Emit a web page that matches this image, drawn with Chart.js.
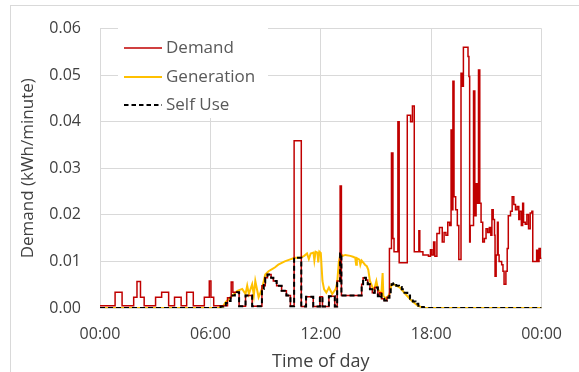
<!DOCTYPE html>
<html>
<head>
<meta charset="utf-8">
<script src="https://cdn.jsdelivr.net/npm/chart.js@4"></script>
<style>
  html, body { margin: 0; padding: 0; background: #fff; overflow: hidden; }
  canvas { display: block; }
</style>
</head>
<body>
<canvas id="demandChart" width="579" height="372"></canvas>
<script>
// tick labels
const timeTicks = ['00:00', '06:00', '12:00', '18:00', '00:00'];
const demandTicks = ['0.00', '0.01', '0.02', '0.03', '0.04', '0.05', '0.06'];

// Demand (step series, hour of day -> kWh/minute)
const demandHours = [0, 0.82, 1.2, 1.83, 2.01, 2.2, 2.4, 3.02, 3.35, 3.73, 4.05, 4.41, 4.71, 5.07, 5.67, 5.94, 6.03, 6.18,
    6.93, 7.13, 7.22, 7.56, 7.91, 8.27, 8.8, 8.98, 9.1, 9.3, 9.42, 9.6, 9.87, 10.13, 10.35, 10.55, 10.94,
    11.2, 11.59, 11.95, 12.09, 12.44, 12.76, 12.89, 13.05, 13.12, 14.22, 14.3, 14.45, 14.55, 14.67, 14.8, 14.93,
    15.1, 15.2, 15.3, 15.45, 15.6, 15.73, 15.84, 15.92, 15.98, 16.19, 16.26, 16.7, 16.88, 16.98, 17.08,
    17.33, 17.38, 17.55, 17.85, 17.96, 18.04, 18.13, 18.2, 18.31, 18.45, 18.6, 18.7, 18.8, 18.9, 19.0,
    19.08, 19.13, 19.18, 19.24, 19.33, 19.42, 19.5, 19.62, 19.69, 19.75, 20.0, 20.05, 20.09, 20.12, 20.3,
    20.37, 20.44, 20.5, 20.57, 20.64, 20.71, 20.8, 20.89, 20.98, 21.07, 21.16, 21.24, 21.3, 21.37, 21.44,
    21.47, 21.53, 21.6, 21.64, 21.69, 21.83, 21.9, 21.96, 22.06, 22.13, 22.19, 22.31, 22.4, 22.49, 22.58,
    22.67, 22.76, 22.81, 22.9, 22.97, 23.02, 23.11, 23.2, 23.29, 23.38, 23.47, 23.52, 23.73, 23.79, 23.86,
    23.93, 24];
const demandValues = [0.0005, 0.0034, 0.0005, 0.0023, 0.0057, 0.0023, 0.0005, 0.0023, 0.0034, 0.0005, 0.0023, 0.0005, 0.0034, 0.0005, 0.0023, 0.0058, 0.0023, 0.0005,
    0.0022, 0.0056, 0.0034, 0.0004, 0.0027, 0.0004, 0.0048, 0.0065, 0.0072, 0.0065, 0.0058, 0.0048, 0.0037, 0.0027, 0.0004, 0.0359, 0.0003,
    0.0024, 0.0003, 0.0024, 0.0003, 0.0025, 0.0003, 0.0058, 0.0262, 0.0027, 0.0051, 0.0065, 0.006, 0.0051, 0.004, 0.0033, 0.0044,
    0.0025, 0.0033, 0.002, 0.0016, 0.0023, 0.0128, 0.0333, 0.0149, 0.0121, 0.04, 0.0097, 0.0414, 0.04, 0.0434, 0.0121,
    0.0166, 0.0121, 0.0114, 0.0111, 0.0125, 0.0114, 0.0142, 0.0111, 0.016, 0.0173, 0.0142, 0.0162, 0.0156, 0.0184, 0.0177,
    0.0382, 0.0211, 0.0487, 0.0239, 0.0211, 0.0177, 0.0104, 0.0504, 0.0476, 0.056, 0.054, 0.0497, 0.0142, 0.0177, 0.0466,
    0.0198, 0.0267, 0.0225, 0.0511, 0.0225, 0.0184, 0.0142, 0.0149, 0.017, 0.0162, 0.0173, 0.0156, 0.0211, 0.019, 0.0156,
    0.0068, 0.0114, 0.0184, 0.0114, 0.01, 0.0093, 0.0079, 0.0051, 0.0079, 0.0128, 0.0198, 0.0208, 0.0239, 0.0222, 0.0211,
    0.0218, 0.019, 0.0208, 0.0177, 0.0225, 0.0184, 0.018, 0.0201, 0.017, 0.0204, 0.0208, 0.01, 0.0124, 0.01, 0.0128,
    0.0107, 0.0107];

// Generation (hour of day -> kWh/minute)
const genHours = [0, 6.45, 6.67, 6.84, 7.2, 7.47, 7.73, 7.91, 8.0, 8.09, 8.27, 8.36, 8.44, 8.62, 8.8, 8.98, 9.16, 9.33, 9.5,
    9.69, 10.04, 10.3, 10.58, 10.9, 11.1, 11.25, 11.35, 11.45, 11.6, 11.65, 11.72, 11.82, 11.86, 11.92, 12.0, 12.09,
    12.18, 12.3, 12.44, 12.62, 12.8, 12.89, 12.98, 13.07, 13.2, 13.33, 13.6, 13.75, 13.87, 13.92, 13.96, 14.1, 14.15,
    14.22, 14.4, 14.5, 14.58, 14.67, 14.75, 14.84, 14.93, 15.02, 15.11, 15.29, 15.36, 15.4, 15.56, 15.73, 15.85, 16.0,
    16.3, 16.6, 16.9, 17.26, 17.6, 24];
const genValues = [0, 0, 0.0003, 0.0013, 0.0027, 0.0037, 0.0041, 0.003, 0.0048, 0.003, 0.0051, 0.0027, 0.0058, 0.0023, 0.0041, 0.0072, 0.0079, 0.0083, 0.0087,
    0.0093, 0.01, 0.0104, 0.0108, 0.0108, 0.0112, 0.0117, 0.0105, 0.0117, 0.0119, 0.0102, 0.0121, 0.0119, 0.0098, 0.0121, 0.0118, 0.0058,
    0.004, 0.0033, 0.0044, 0.003, 0.004, 0.0054, 0.0099, 0.0117, 0.0112, 0.0114, 0.0112, 0.011, 0.0108, 0.0093, 0.0107, 0.0104, 0.0093,
    0.0102, 0.0093, 0.009, 0.0082, 0.0058, 0.0051, 0.004, 0.0044, 0.0058, 0.004, 0.003, 0.0075, 0.0026, 0.002, 0.003, 0.0051, 0.005,
    0.0044, 0.003, 0.0017, 0.0005, 0, 0];

// Self use (step series, hour of day -> kWh/minute)
const selfHours = [0, 6.4, 6.55, 6.7, 6.84, 6.95, 7.1, 7.2, 7.33, 7.45, 7.56, 7.91, 8.27, 8.8, 8.9, 8.98, 9.1, 9.3, 9.42, 9.6,
    9.87, 10.13, 10.35, 10.55, 10.94, 11.2, 11.59, 11.95, 12.09, 12.44, 12.76, 12.89, 13.05, 13.12, 14.22, 14.3, 14.45,
    14.55, 14.67, 14.8, 14.93, 15.1, 15.2, 15.3, 15.45, 15.6, 15.73, 15.8, 15.85, 15.95, 16.1, 16.25, 16.4, 16.55, 16.7,
    16.85, 17.0, 17.15, 17.3, 17.45, 17.6, 24];
const selfValues = [0, 0.0001, 0.0003, 0.0006, 0.0011, 0.0015, 0.0022, 0.0027, 0.0032, 0.0034, 0.0004, 0.0027, 0.0004, 0.0041, 0.0055, 0.0065, 0.0072, 0.0065, 0.0058, 0.0048,
    0.0037, 0.0027, 0.0004, 0.0108, 0.0003, 0.0024, 0.0003, 0.0024, 0.0003, 0.0025, 0.0003, 0.0054, 0.0117, 0.0027, 0.0051, 0.0065, 0.006,
    0.0051, 0.004, 0.0033, 0.0044, 0.0025, 0.003, 0.002, 0.0016, 0.0022, 0.003, 0.0045, 0.0051, 0.0053, 0.0048, 0.0045, 0.004, 0.0033, 0.0027,
    0.002, 0.0014, 0.0009, 0.0005, 0.0002, 0, 0];

const seriesNames = ['Demand', 'Generation', 'Self Use'];
const seriesColors = ['#C00000', '#FFC000', '#000000'];

function toPoints(hours, values) {
    return hours.map((h, i) => ({ x: h, y: values[i] }));
}

const textGray = '#404040';
const gridGray = '#d9d9d9';

// outer frame of the chart
const framePlugin = {
    id: 'frame',
    beforeDraw(chart) {
        const ctx = chart.ctx;
        ctx.save();
        ctx.strokeStyle = gridGray;
        ctx.lineWidth = 1;
        ctx.strokeRect(10.5, 5.5, 620, 420);
        ctx.restore();
    }
};

// legend sitting inside the plot area
const insideLegend = {
    id: 'insideLegend',
    beforeDatasetsDraw(chart) {
        const ctx = chart.ctx;
        ctx.save();
        ctx.fillStyle = '#fff';
        ctx.fillRect(118, 24, 150, 94);
        const rows = [48, 77, 105];
        ctx.font = '17px "Open Sans"';
        ctx.textBaseline = 'middle';
        ctx.textAlign = 'left';
        rows.forEach((y, i) => {
            ctx.beginPath();
            ctx.strokeStyle = seriesColors[i];
            ctx.lineWidth = i === 0 ? 1.5 : 2;
            ctx.setLineDash(i === 2 ? [4.5, 3] : []);
            ctx.moveTo(124, y);
            ctx.lineTo(162, y);
            ctx.stroke();
            ctx.setLineDash([]);
            ctx.fillStyle = '#595959';
            ctx.fillText(seriesNames[i], 166, y);
        });
        ctx.restore();
    }
};

new Chart(document.getElementById('demandChart'), {
    type: 'line',
    data: {
        datasets: [{
            label: seriesNames[0],
            data: toPoints(demandHours, demandValues),
            borderColor: seriesColors[0],
            borderWidth: 1.5,
            stepped: true,
            order: 1
        }, {
            label: seriesNames[1],
            data: toPoints(genHours, genValues),
            borderColor: seriesColors[1],
            borderWidth: 2,
            order: 2
        }, {
            label: seriesNames[2],
            data: toPoints(selfHours, selfValues),
            borderColor: seriesColors[2],
            borderWidth: 2,
            borderDash: [5, 3],
            stepped: true,
            order: 0
        }]
    },
    options: {
        responsive: false,
        animation: false,
        devicePixelRatio: 1,
        elements: { point: { radius: 0 }, line: { tension: 0, fill: false } },
        layout: { padding: { left: 10, top: 22, right: 29, bottom: 0 } },
        plugins: {
            legend: { display: false },
            tooltip: { enabled: false }
        },
        scales: {
            x: {
                type: 'linear',
                min: 0,
                max: 24,
                afterFit: (scale) => { scale.height = 64; },
                ticks: {
                    stepSize: 6,
                    padding: 17,
                    maxRotation: 0,
                    color: textGray,
                    font: { family: 'Open Sans', size: 16 },
                    callback: (value, index) => timeTicks[index]
                },
                grid: { color: gridGray, drawTicks: false },
                border: { color: gridGray },
                title: {
                    display: true,
                    text: 'Time of day',
                    color: textGray,
                    font: { family: 'Open Sans', size: 18 },
                    padding: { top: 0, bottom: -1 }
                }
            },
            y: {
                min: 0,
                max: 0.06,
                afterFit: (scale) => { scale.width = 90; },
                ticks: {
                    stepSize: 0.01,
                    padding: 19,
                    color: textGray,
                    font: { family: 'Open Sans', size: 16 },
                    callback: (value, index) => demandTicks[index]
                },
                grid: { color: gridGray, drawTicks: false },
                border: { color: gridGray },
                title: {
                    display: true,
                    text: 'Demand (kWh/minute)',
                    color: textGray,
                    font: { family: 'Open Sans', size: 17 },
                    padding: { top: 8, bottom: 0 }
                }
            }
        }
    },
    plugins: [framePlugin, insideLegend]
});
</script>
</body>
</html>
